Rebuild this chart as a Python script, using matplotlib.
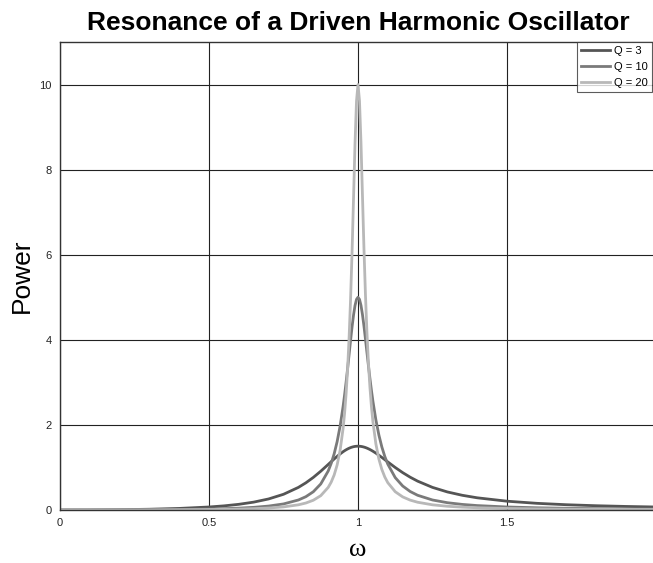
import matplotlib
matplotlib.use("Agg")
import matplotlib.pyplot as plt

plt.rcParams['font.family'] = ['Liberation Sans', 'DejaVu Sans']

labels = ["Q = 3", "Q = 10", "Q = 20"]
colors = ["#555555", "#7a7a7a", "#b8b8b8"]

omega = [0.0, 0.1, 0.2, 0.3, 0.4, 0.5,
         0.55, 0.6, 0.65, 0.7, 0.75, 0.8,
         0.825, 0.85, 0.875, 0.9,
         0.91, 0.92, 0.93, 0.94, 0.95,
         0.955, 0.96, 0.965, 0.97, 0.975, 0.98, 0.985, 0.99, 0.995,
         1.0,
         1.005, 1.01, 1.015, 1.02, 1.025, 1.03, 1.035, 1.04, 1.045, 1.05,
         1.06, 1.07, 1.08, 1.09, 1.1,
         1.125, 1.15, 1.175, 1.2,
         1.25, 1.3, 1.35, 1.4,
         1.5, 1.6, 1.7, 1.8, 1.9, 2.0]

power_q3 = [0.0, 0.0017, 0.0072, 0.0179, 0.0369, 0.0706,
            0.0969, 0.1335, 0.1851, 0.2596, 0.3692, 0.5315,
            0.6386, 0.7656, 0.9114, 1.0706,
            1.1354, 1.1992, 1.2606, 1.3180, 1.3701,
            1.3936, 1.4151, 1.4344, 1.4515, 1.4662, 1.4783, 1.4878, 1.4946, 1.4986,
            1.5,
            1.4987, 1.4947, 1.4881, 1.4791, 1.4678, 1.4542, 1.4387, 1.4213, 1.4021, 1.3815,
            1.3365, 1.2875, 1.2359, 1.1829, 1.1295,
            0.9989, 0.8783, 0.7714, 0.6787,
            0.5314, 0.4243, 0.3456, 0.2867,
            0.2069, 0.1570, 0.1237, 0.1004, 0.0834, 0.0706]

power_q10 = [0.0, 0.0005, 0.0022, 0.0054, 0.0113, 0.0221,
             0.0309, 0.0436, 0.0625, 0.0925, 0.1427, 0.2353,
             0.3128, 0.4289, 0.6116, 0.9163,
             1.0945, 1.3202, 1.6076, 1.9736, 2.4351,
             2.7047, 2.9994, 3.3158, 3.6463, 3.9794, 4.2982, 4.5813, 4.8059, 4.9502,
             5.0,
             4.9507, 4.8096, 4.5927, 4.3221, 4.0195, 3.7048, 3.3931, 3.0947, 2.8161, 2.5603,
             2.1190, 1.7644, 1.4820, 1.2569, 1.0765,
             0.7605, 0.5640, 0.4350, 0.3462,
             0.2353, 0.1714, 0.1312, 0.1041,
             0.0710, 0.0520, 0.0401, 0.0321, 0.0264, 0.0221]

power_q20 = [0.0, 0.0003, 0.0011, 0.0027, 0.0057, 0.0111,
             0.0155, 0.0219, 0.0316, 0.0469, 0.0729, 0.1220,
             0.1641, 0.2292, 0.3367, 0.5311,
             0.6547, 0.8231, 1.0592, 1.4018, 1.9182,
             2.2756, 2.7264, 3.2984, 4.0244, 4.9363, 6.0492, 7.3233, 8.6087, 9.6137,
             10.0,
             9.6172, 8.6325, 7.3817, 6.1445, 5.0613, 4.1695, 3.4551, 2.8881, 2.4379, 2.0782,
             1.5532, 1.1997, 0.9528, 0.7745, 0.6419,
             0.4292, 0.3081, 0.2327, 0.1826,
             0.1220, 0.0880, 0.0669, 0.0529,
             0.0359, 0.0262, 0.0202, 0.0161, 0.0132, 0.0111]

xticks = [0, 0.5, 1, 1.5, 2]
xticklabels = ["0", "0.5", "1", "1.5", "2"]
yticks = [0, 2, 4, 6, 8, 10]
yticklabels = ["0", "2", "4", "6", "8", "10"]

W, H = 653, 563
fig = plt.figure(figsize=(W / 100, H / 100), dpi=100)
ax = fig.add_axes([60 / W, 1 - 510 / H, (656 - 60) / W, (510 - 42) / H])

for y, lab, col in zip([power_q3, power_q10, power_q20], labels, colors):
    ax.plot(omega, y, color=col, lw=2.0, label=lab, solid_joinstyle='round')

ax.set_xlim(0, 2)
ax.set_ylim(0, 11)
ax.set_xticks(xticks)
ax.set_xticklabels(xticklabels)
ax.set_yticks(yticks)
ax.set_yticklabels(yticklabels)
ax.tick_params(axis='both', labelsize=8, length=0, pad=6, colors='#222222')
ax.grid(True, color='#222222', lw=0.8)
ax.set_axisbelow(True)
for s in ax.spines.values():
    s.set_color('#333333')
    s.set_linewidth(1.0)

ax.set_title("Resonance of a Driven Harmonic Oscillator", fontsize=19, fontweight='bold', pad=8.6)
ax.set_ylabel("Power", fontsize=19, labelpad=4)
ax.set_xlabel("ω", fontsize=19, family=['Liberation Serif', 'DejaVu Serif'], labelpad=8)

leg = ax.legend(loc='upper right', bbox_to_anchor=(652 / W, 1 - 42 / H), bbox_transform=fig.transFigure,
                fontsize=8, frameon=True, fancybox=False, edgecolor='#333333',
                borderpad=0.35, handlelength=2.6, handletextpad=0.4, labelspacing=0.55,
                borderaxespad=0)
leg.get_frame().set_linewidth(0.8)

fig.savefig("out.png", dpi=100)
